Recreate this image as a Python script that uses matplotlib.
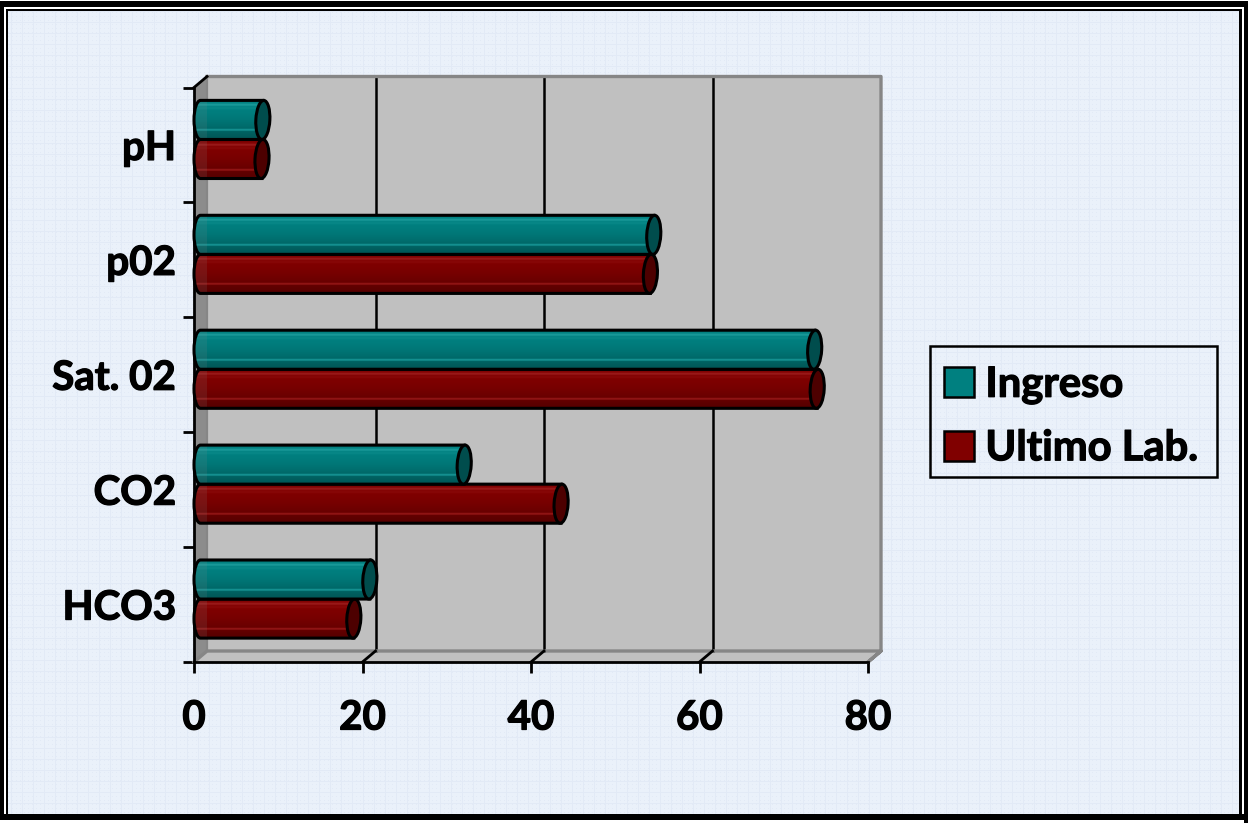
# -*- coding:utf-8 -*-
import numpy as np
import matplotlib
matplotlib.use('Agg')
import matplotlib.pyplot as plt
import matplotlib.patheffects as pe
from matplotlib.colors import to_rgb
from matplotlib.lines import Line2D
from matplotlib.patches import Ellipse, Patch, PathPatch, Polygon, Rectangle
from matplotlib.path import Path
from matplotlib.transforms import Affine2D, IdentityTransform

categories = ['pH', 'p02', 'Sat. 02', 'CO2', 'HCO3']
ingreso = [7.4, 53.8, 72.9, 31.3, 20.1]
ultimo_lab = [7.3, 53.4, 73.2, 42.8, 18.2]
series_names = ['Ingreso', 'Ultimo Lab.']
x_ticks = [0, 20, 40, 60, 80]

W, H = 1248, 823
DEPTH_X, DEPTH_Y = 13, 11     # depth of the box, pixels
TEAL, MAROON = '#008080', '#800000'
TEAL_CAP, MAROON_CAP = '#004d4d', '#4d0000'
WALL, WALL_EDGE, SIDE = '#c0c0c0', '#868686', '#8c8c8c'

plt.rcParams['font.family'] = ['Lato', 'DejaVu Sans']
plt.rcParams['font.weight'] = 'bold'

fig = plt.figure(figsize=(W / 100, H / 100), dpi=100)

# paper background with a faint woven grid, and the double frame
bg = np.ones((H, W, 3)) * np.array([234, 241, 250]) / 255
bg[::4, ::4] = np.array([226, 234, 246]) / 255
bg[::11, :] = np.array([226, 234, 246]) / 255
bg[:, ::11] = np.array([226, 234, 246]) / 255
bg[:, :4] = 0
bg[:, 4:6] = 1
bg[:, 6:8] = 0
bg[:, 1239:1242] = 0
bg[:, 1242:1244] = 1
bg[:, 1244:] = 0
bg[1:7, :] = 0
bg[7:9, 4:1244] = 1
bg[9:11, 6:1242] = 0
bg[814:820, :] = 0
bg[820:, :] = 1
bg[820:, 1244:] = 0
bg[0, :] = 1
fig.figimage(bg, 0, 0, origin='upper', zorder=-10)

ax = fig.add_axes([194 / W, 1 - 662 / H, (868 - 194) / W, (662 - 87.5) / H])
ax.set_xlim(0, 80)
ax.set_ylim(len(categories), 0)
ax.patch.set_visible(False)
ax.set_autoscale_on(False)


def depth_shift(frac):
    return Affine2D().translate(DEPTH_X * frac, DEPTH_Y * frac)


def px(x, y, frac=0.0):
    return depth_shift(frac).transform(ax.transData.transform((x, y)))


# back wall, floor and left wall
n = len(categories)
ident = IdentityTransform()
back = [px(0, 0, 1), px(80, 0, 1), px(80, n, 1), px(0, n, 1)]
ax.add_artist(Polygon(back, fc=WALL, ec='none', transform=ident, zorder=1, clip_on=False))
floor = [px(0, n), px(80, n), px(80, n, 1), px(0, n, 1)]
ax.add_artist(Polygon(floor, fc=WALL, ec='none', transform=ident, zorder=1, clip_on=False))
side = [px(0, 0), px(0, 0, 1), px(0, n, 1), px(0, n)]
ax.add_artist(Polygon(side, fc=SIDE, ec='none', transform=ident, zorder=1.1, clip_on=False))

# gridlines sit on the back wall
for v in x_ticks[1:-1]:
    a, b = px(v, 0, 1), px(v, n, 1)
    ax.add_artist(Line2D([a[0], b[0]], [a[1], b[1]], color='black', lw=1.8,
                         transform=ident, zorder=2, clip_on=False))

# wall outline and the floor edge
outline = [px(0, 0, 1), px(80, 0, 1), px(80, n, 1), px(80, n), px(80, n, 1), px(0, n, 1), px(0, n)]
ax.add_artist(Line2D([p[0] for p in outline], [p[1] for p in outline], color=WALL_EDGE, lw=2.4,
                     transform=ident, zorder=2.5, clip_on=False))
edge = [px(0, 0, 1), px(0, n, 1)]
ax.add_artist(Line2D([p[0] for p in edge], [p[1] for p in edge], color=WALL_EDGE, lw=1.6,
                     transform=ident, zorder=2.5, clip_on=False))

# short depth marks leaving the front axes
for a, b in [(px(0, 0), px(0, 0, 1))] + [(px(v, n), px(v, n, 1)) for v in x_ticks[1:-1]]:
    ax.add_artist(Line2D([a[0], b[0]], [a[1], b[1]], color='black', lw=2.0,
                         transform=ident, zorder=3, clip_on=False))

# shading across the cylinder, top to bottom
shade = np.array([0.88, 0.95, 1.03, 1.14, 1.02, 1.04, 1.00, 0.98, 0.98, 0.96, 0.95, 0.94, 0.92,
                  0.90, 0.88, 0.86, 0.84, 0.82, 1.12, 0.78, 0.74, 0.72, 0.70, 0.68])


def shaded(color):
    rgb = np.array(to_rgb(color))
    lift = np.clip(shade - 1, 0, None)[:, None]
    row = rgb[None, :] * np.minimum(shade, 1)[:, None] + lift * 0.8
    return np.clip(row, 0, 1)[:, None, :]


def cylinder(value, yc, band, color, cap, z):
    half = DEPTH_X / 2
    x0, ymid = px(0, yc + band / 2, 0.5)
    x1, _ = px(value, yc + band / 2, 0.5)
    _, ytop = px(0, yc, 0.5)
    _, ybot = px(0, yc + band, 0.5)
    k = 0.5523
    verts = [(x1, ytop), (x0, ytop),
             (x0 - half * k, ytop), (x0 - half, ymid + (ytop - ymid) * k), (x0 - half, ymid),
             (x0 - half, ymid + (ybot - ymid) * k), (x0 - half * k, ybot), (x0, ybot),
             (x1, ybot), (x1, ytop)]
    codes = [Path.MOVETO, Path.LINETO, Path.CURVE4, Path.CURVE4, Path.CURVE4,
             Path.CURVE4, Path.CURVE4, Path.CURVE4, Path.LINETO, Path.CLOSEPOLY]
    body = PathPatch(Path(verts, codes), fc=color, ec='none', transform=ident, zorder=z, clip_on=False)
    ax.add_artist(body)
    img = ax.imshow(shaded(color), extent=(-1, value, yc + band, yc), aspect='auto',
                    interpolation='bilinear', zorder=z + 0.01,
                    transform=ax.transData + depth_shift(0.5))
    img.set_clip_path(body)
    img.set_clip_box(None)
    # the left wall shows faintly through the near end
    wall = Polygon(side, fc=SIDE, ec='none', alpha=0.14, transform=ident, zorder=z + 0.02)
    ax.add_artist(wall)
    wall.set_clip_path(body)
    wall.set_clip_box(None)
    ax.add_artist(PathPatch(Path(verts, codes), fc='none', ec='black', lw=2.2, transform=ident,
                            zorder=z + 0.03, clip_on=False))
    ax.add_artist(Ellipse((x1, ymid), DEPTH_X + 1, ytop - ybot, angle=-3, fc=cap, ec='black', lw=2.2,
                          transform=ident, zorder=z + 0.04, clip_on=False))


band = 0.34
for i in range(n):
    yc = i + 0.5
    # the lower (red) cylinder is drawn first so the teal one overlaps it
    cylinder(ultimo_lab[i], yc, band, MAROON, MAROON_CAP, 5 + i)
    cylinder(ingreso[i], yc - band, band, TEAL, TEAL_CAP, 5.5 + i)

ax.set_xlim(0, 80)
ax.set_ylim(n, 0)

# front axes
for name in ['top', 'right']:
    ax.spines[name].set_visible(False)
for name in ['left', 'bottom']:
    ax.spines[name].set_linewidth(2.0)
    ax.spines[name].set_zorder(3)
ax.set_xticks(x_ticks)
ax.set_yticks(np.arange(n + 1))
ax.set_yticks(np.arange(n) + 0.5, minor=True)
ax.set_yticklabels([])
ax.set_yticklabels(categories, minor=True)
ax.tick_params(axis='x', length=8, width=2.0, labelsize=29, pad=19)
ax.tick_params(axis='y', which='major', length=8, width=2.0)
ax.tick_params(axis='y', which='minor', length=0, labelsize=29, pad=13)

# legend box is drawn on its own so the padding can be uneven
fig.add_artist(Rectangle((930 / W, 1 - 477 / H), 287 / W, 131 / H, fc='none', ec='black', lw=1.8,
                         transform=fig.transFigure))
handles = [Patch(fc=TEAL, ec='black', lw=1.8), Patch(fc=MAROON, ec='black', lw=1.8)]
leg = fig.legend(handles, series_names, loc='upper left', bbox_to_anchor=(930 / W, 1 - 352 / H),
                 bbox_transform=fig.transFigure, borderaxespad=0, fontsize=30, borderpad=0.33,
                 handlelength=0.72, handleheight=0.72, handletextpad=0.28, labelspacing=0.6,
                 frameon=False)

# thicken the lettering a little
thick = [pe.withStroke(linewidth=0.9, foreground='black')]
for t in ax.get_xticklabels() + ax.get_yticklabels(minor=True) + leg.get_texts():
    t.set_path_effects(thick)

fig.savefig('out.png', dpi=100)
